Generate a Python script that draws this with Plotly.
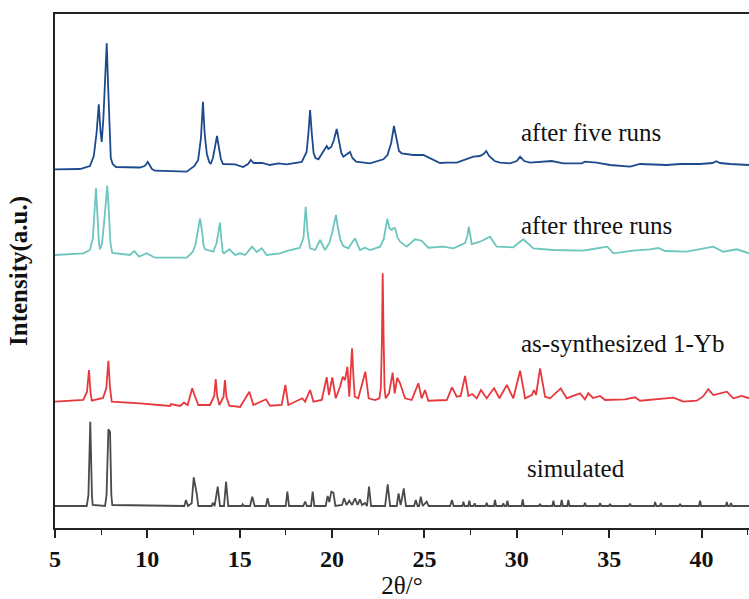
import plotly.graph_objects as go

# ---- data (2θ in degrees, stacked intensity in a.u.) ----
five_x = [5.00, 6.35, 6.89, 7.10, 7.25, 7.37, 7.47, 7.53, 7.62, 7.72, 7.80, 7.88, 7.95, 8.02, 8.12, 8.30,
          9.60, 9.85, 9.95, 10.02, 10.12, 10.25, 10.41,
          12.13, 12.55, 12.75, 12.90, 13.01, 13.10, 13.22, 13.35, 13.43, 13.55, 13.68, 13.77, 13.86, 13.98, 14.10,
          14.75, 15.18, 15.45, 15.60, 15.75, 16.21, 16.64, 17.09, 17.54, 18.36,
          18.62, 18.72, 18.81, 18.90, 19.00, 19.10, 19.26, 19.71, 19.80, 19.95, 20.10, 20.25, 20.36, 20.50,
          20.61, 20.80, 20.97, 21.10, 21.30, 22.05, 22.78, 23.00, 23.20, 23.35, 23.48, 23.62, 23.77,
          24.40, 24.94, 25.48, 25.84, 26.21, 26.75, 27.65, 28.00, 28.20, 28.34, 28.50, 28.80, 29.09,
          29.63, 30.00, 30.18, 30.40, 30.72, 31.89, 32.52, 33.52, 33.69, 34.33,
          35.05, 36.13, 36.67, 38.12, 38.84, 39.92, 40.60, 40.79, 41.00, 41.55, 42.57]
five_y = [358.7, 359, 362, 372, 395, 423.7, 395, 386, 410, 455, 484.7, 440, 395, 370, 364, 361,
          360.5, 362, 364, 366, 363, 359, 357.3,
          356.3, 362, 368, 390, 426.3, 395, 374, 366, 364, 370, 385, 392, 382, 369, 364,
          363.7, 361, 364, 368, 365, 365, 363, 364.7, 363.7, 366,
          376, 395, 418, 395, 375, 370, 368.7, 382, 379, 381, 388, 399, 388, 375,
          371.3, 374, 376, 370, 366.3, 364.7, 368.7, 373, 385, 402, 388, 377, 374.7,
          373, 373, 368, 365, 365.3, 365.3, 371.3, 372, 374, 377, 372, 367, 365.3,
          364.7, 367, 371.3, 367, 365.3, 367, 364.7, 364.7, 366.3, 365.3,
          363, 361.3, 364, 363, 364, 364, 365, 366.7, 365, 364, 363]

three_x = [5.00, 6.53, 6.89, 7.05, 7.15, 7.22, 7.29, 7.38, 7.44, 7.55, 7.68, 7.83, 7.92, 8.00, 8.10,
           9.06, 9.29, 9.55, 9.96, 10.41, 12.13, 12.45, 12.60, 12.75, 12.85, 12.95, 13.05, 13.12,
           13.57, 13.75, 13.87, 13.93, 14.00, 14.08, 14.15, 14.44, 14.75, 15.02, 15.29, 15.67, 15.92,
           16.19, 16.46, 17.18, 17.72, 18.25, 18.45, 18.57, 18.68, 18.81, 19.08, 19.35, 19.62,
           19.85, 20.00, 20.12, 20.21, 20.32, 20.45, 20.60, 20.88, 21.24, 21.51, 21.78, 22.05, 22.60,
           22.80, 22.92, 22.99, 23.10, 23.23, 23.33, 23.41, 23.55, 23.68, 24.04, 24.49, 24.85,
           25.21, 26.02, 26.56, 27.20, 27.32, 27.40, 27.48, 27.56, 28.01, 28.55, 28.91, 29.63, 29.81,
           30.35, 30.90, 31.98, 33.60, 34.13, 34.90, 35.23, 36.29, 37.21, 37.65, 38.03, 39.20, 40.64,
           41.17, 41.91, 42.57]
three_y = [273, 274.7, 278, 290, 320, 339.7, 315, 285, 278.7, 285, 310, 342.3, 315, 285, 275,
           273, 277, 271.3, 274.7, 270.3, 270.3, 276, 283, 300, 309.7, 298, 282, 278.7,
           276.3, 285, 300, 305.3, 290, 276, 274.7, 278.7, 273, 274.7, 273, 281.3, 276,
           279.7, 273, 274.7, 278, 280, 290, 321.3, 295, 279.7, 278, 288, 278,
           285, 295, 306, 313, 300, 288, 282, 279.7, 289.7, 278, 280.3, 278, 281.3,
           289, 302, 309, 300, 298, 300, 299.7, 290, 286.3, 281.3, 288.7, 287.3,
           280.3, 281.3, 279.7, 285, 292, 301.3, 290, 284, 286.3, 291.3, 281.3, 280.3, 280.7,
           288.7, 279.7, 278, 277.3, 279, 281.3, 274.7, 277.3, 278.7, 280, 277, 276.3, 281.3,
           276.3, 278.7, 274.7]

asyn_x = [5.00, 6.53, 6.73, 6.84, 6.92, 6.99, 7.60, 7.78, 7.89, 7.98, 8.07, 9.60, 11.23, 11.28, 11.77,
          11.98, 12.18, 12.43, 12.53, 12.76, 13.39, 13.62, 13.70, 13.78, 13.90, 14.12, 14.20, 14.28,
          14.44, 15.02, 15.52, 15.74, 16.42, 16.64, 17.27, 17.47, 17.63, 18.26, 18.39, 18.54, 18.81,
          18.99, 19.44, 19.71, 19.83, 20.01, 20.20, 20.43, 20.58, 20.70, 20.83, 20.93, 21.00, 21.08,
          21.16, 21.23, 21.42, 21.80, 21.98, 22.33, 22.56, 22.64, 22.70, 22.74, 22.79, 22.84, 22.90,
          23.08, 23.28, 23.39, 23.53, 23.68, 23.95, 24.31, 24.67, 24.85, 25.03, 25.21, 26.21, 26.49,
          26.75, 26.96, 27.20, 27.38, 27.59, 27.83, 28.06, 28.37, 28.77, 29.06, 29.46, 29.81, 30.18,
          30.45, 30.81, 30.93, 31.04, 31.26, 31.53, 31.80, 32.38, 32.70, 33.42, 33.69, 33.87, 34.13,
          34.51, 34.78, 35.86, 36.40, 36.67, 37.58, 38.48, 39.02, 39.74, 40.07, 40.37, 40.64, 41.00,
          41.37, 41.72, 42.18, 42.57]
asyn_y = [126.3, 128, 136, 158, 136, 127.3, 130, 140, 167.3, 140, 126.3, 124.7, 122, 124, 122,
          125.3, 123, 139.7, 134, 123, 123, 132, 149, 132, 123, 131, 148, 131,
          122.3, 121, 136.3, 123, 128.7, 122.3, 123, 143, 123, 128, 129.7, 126.3, 138,
          126.3, 128, 150.7, 133, 150.7, 129.7, 141.3, 151.3, 148, 161.3, 131.3, 150, 179.7,
          150, 131.3, 129.7, 156.3, 129.7, 128, 129.7, 140, 190, 254.7, 190, 140, 129.7,
          134.7, 155.3, 134.7, 150.3, 144.7, 129.7, 128, 144.7, 129.7, 138, 127.3, 128, 140.7,
          131.3, 132, 152, 132, 134, 129.7, 138, 129.7, 139.7, 129.7, 143, 129.7, 157.3,
          129.7, 133, 138, 133, 159.7, 131.3, 129.7, 139.7, 129.7, 134.7, 128.7, 134.7, 130,
          132, 128, 128.7, 130.7, 127.3, 128.7, 130.3, 126.3, 127.3, 131.3, 138.7, 133, 134.7,
          136.3, 129.7, 132, 129.7]

sim_x = [5.00, 6.72, 6.81, 6.91, 7.00, 7.04, 7.71, 7.79, 7.89, 7.98, 8.05, 8.10, 12.00, 12.09, 12.20,
         12.40, 12.51, 12.58, 12.67, 12.76, 13.48, 13.54, 13.64, 13.81, 13.93, 14.15, 14.26, 14.38,
         15.12, 15.16, 15.23, 15.56, 15.68, 15.81, 16.42, 16.51, 16.60, 17.49, 17.58, 17.67, 18.44,
         18.54, 18.64, 18.86, 18.95, 19.04, 19.65, 19.76, 19.85, 19.96, 20.07, 20.18, 20.54, 20.65,
         20.78, 20.93, 21.08, 21.24, 21.38, 21.51, 21.62, 21.78, 21.89, 22.00, 22.11, 22.87, 23.01,
         23.14, 23.50, 23.60, 23.71, 23.77, 23.88, 24.00, 24.44, 24.53, 24.63, 24.71, 24.80, 24.91,
         25.12, 25.23,
         26.39, 26.49, 26.58, 27.05, 27.11, 27.17, 27.37, 27.43, 27.49, 27.66, 27.72, 27.78,
         28.31, 28.37, 28.43, 28.76, 28.82, 28.88, 29.21, 29.27, 29.33, 29.43, 29.49, 29.55,
         30.26, 30.32, 30.38, 31.20, 31.26, 31.32, 31.92, 31.98, 32.04, 32.37, 32.43, 32.49,
         32.73, 32.79, 32.85, 33.63, 33.69, 33.75, 34.45, 34.51, 34.57, 34.99, 35.05, 35.11,
         36.07, 36.13, 36.19, 37.43, 37.49, 37.55, 37.74, 37.80, 37.86, 38.78, 38.84, 38.90,
         39.86, 39.92, 39.98, 41.31, 41.37, 41.43, 41.54, 41.60, 41.66, 42.57]
sim_y = [22, 22, 33, 106.3, 33, 23, 22, 33, 98.7, 96.3, 33, 23, 22, 28, 22,
         24.7, 50.7, 44.7, 34.7, 22, 22, 25.3, 22, 41.3, 22, 22, 46.3, 22,
         22, 23.7, 22, 22, 31.3, 22, 22, 29.7, 22, 22, 36.3, 22, 22,
         26.3, 22, 22, 36.3, 22, 22, 32, 26, 36.3, 35.3, 22, 23, 29.7,
         23, 27.3, 23, 29.7, 23, 28.7, 23, 25, 22, 41.3, 22, 22, 43.7,
         22, 22, 34.7, 23, 28, 39.7, 22, 22, 28, 22, 22, 31.3, 22,
         26.3, 22,
         22, 28, 22, 22, 26.3, 22, 22, 27.3, 22, 22, 24.7, 22,
         22, 25.3, 22, 22, 28, 22, 22, 24.7, 22, 22, 27.3, 22,
         22, 28.7, 22, 22, 24, 22, 22, 27.3, 22, 22, 28, 22,
         22, 28, 22, 22, 25.3, 22, 22, 25, 22, 22, 24, 22,
         22, 24.5, 22, 22, 26, 22, 22, 25, 22, 22, 24, 22,
         22, 27.3, 22, 22, 26, 22, 22, 25, 22, 22]

labels = ["after five runs", "after three runs", "as-synthesized 1-Yb", "simulated"]
label_x = [30.12, 30.12, 30.12, 30.45]
label_y = [396, 303, 185, 60]
colors = ["#1d4a8c", "#6cc6bd", "#e8383d", "#4a4a4a"]

series = [(five_x, five_y), (three_x, three_y), (asyn_x, asyn_y), (sim_x, sim_y)]

SERIF = "Liberation Serif, Times New Roman, serif"

fig = go.Figure()
for (xs, ys), name, c in zip(series, labels, colors):
    fig.add_trace(go.Scatter(x=xs, y=ys, mode="lines", name=name,
                             line=dict(color=c, width=1.8), showlegend=False))

for t, lx, ly in zip(labels, label_x, label_y):
    fig.add_annotation(x=lx, y=ly, text=t, showarrow=False, xanchor="left", yanchor="middle",
                       font=dict(family=SERIF, size=25, color="#111111"))

fig.update_layout(
    width=749, height=599,
    margin=dict(l=55, r=0, t=14, b=71),
    paper_bgcolor="white", plot_bgcolor="white",
    font=dict(family=SERIF, color="#111111"),
    xaxis=dict(range=[5, 42.57], tickvals=[5, 10, 15, 20, 25, 30, 35, 40],
               ticks="outside", ticklen=8, tickwidth=1.5, tickcolor="#222",
               minor=dict(tickvals=[7.5, 12.5, 17.5, 22.5, 27.5, 32.5, 37.5, 42.5],
                          ticks="outside", ticklen=5, tickwidth=1.2, tickcolor="#222"),
               showline=True, linecolor="#222", linewidth=2, mirror=True,
               showgrid=False, zeroline=False, automargin=False,
               tickfont=dict(family=SERIF, size=24, color="#111", weight="bold"),
               title=dict(text="2θ/°", font=dict(family=SERIF, size=25, color="#111"),
                          standoff=2)),
    yaxis=dict(range=[0, 514], showticklabels=False, ticks="", showgrid=False, zeroline=False,
               showline=True, linecolor="#222", linewidth=2, automargin=False,
               title=dict(text="Intensity(a.u.)",
                          font=dict(family=SERIF, size=25, color="#111", weight="bold"),
                          standoff=18)),
)

fig.write_html("out.html")
